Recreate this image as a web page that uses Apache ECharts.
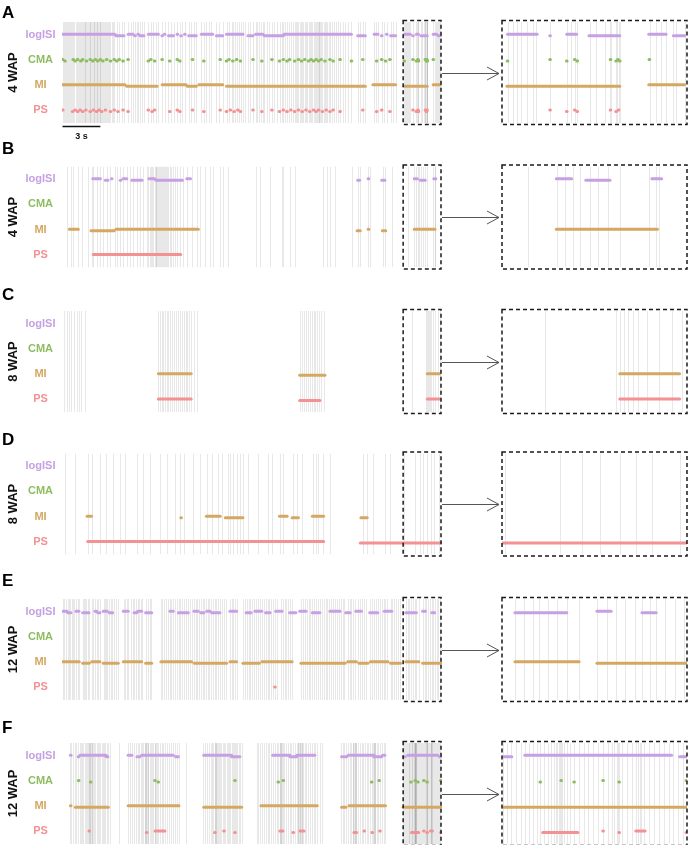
<!DOCTYPE html>
<html>
<head>
<meta charset="utf-8">
<script src="https://cdn.jsdelivr.net/npm/echarts@6/dist/echarts.min.js"></script>
<style>
html,body{margin:0;padding:0;background:#fff;}
#chart{width:688px;height:845px;}
</style>
</head>
<body>
<div id="chart"></div>
<script>
// ---------- categories / labels ----------
const methods = ['logISI', 'CMA', 'MI', 'PS'];
const methodColors = ['#c6a0e2', '#8ebd61', '#d4a862', '#f29292'];
const panelLetters = ['A', 'B', 'C', 'D', 'E', 'F'];
const panelAges = ['4 WAP', '4 WAP', '8 WAP', '8 WAP', '12 WAP', '12 WAP'];
const windowRange = [0, 30];      // seconds shown in each raster
const zoomRange = [27, 30];       // seconds shown in each enlarged box
const scaleBar = [0, 3];          // 3 s scale bar
const scaleLabel = '3 s';

// ---------- panel A (4 WAP) ----------
const spikesA = [0.02,0.1,0.2,0.28,0.35,0.45,0.52,0.6,0.7,0.78,0.85,0.95,1.05,1.12,1.2,1.3,1.38,1.45,1.55,1.6,1.68,1.75,1.82,1.88,1.95,2.02,2.08,2.15,2.2,2.27,2.33,2.4,2.46,2.52,2.58,2.63,2.7,2.76,2.82,2.88,2.95,3.0,3.06,3.12,3.2,3.27,3.35,3.42,3.5,3.6,3.7,3.8,3.9,4.0,4.1,
 4.3,4.5,4.7,4.85,5.2,5.4,5.55,5.75,5.9,6.0,6.15,6.3,6.45,6.8,7.0,7.2,7.4,7.6,7.9,8.1,8.4,8.6,8.8,9.1,9.3,9.5,9.7,10.0,10.2,10.4,10.6,11.0,11.2,11.4,11.6,11.8,12.2,12.4,12.7,13.0,13.2,13.4,13.55,13.7,13.85,14.0,
 14.15,14.3,14.5,14.7,14.9,15.1,15.3,15.45,15.6,15.75,15.9,16.0,16.2,16.4,16.6,16.8,17.0,17.2,17.4,17.5,17.65,17.8,17.95,18.1,18.25,18.4,18.5,18.6,18.7,18.8,18.9,19.0,19.1,19.2,19.3,19.4,19.5,19.6,19.7,19.8,19.9,20.0,20.1,20.2,20.25,20.3,20.35,20.4,20.5,20.6,20.7,20.8,20.9,21.0,21.1,21.2,21.35,21.5,21.65,21.8,22.0,22.2,22.4,22.6,22.9,
 23.4,23.6,23.8,24.0,24.7,24.85,25.0,25.3,25.5,25.7,26.0,26.2,26.4,
 27.09,27.18,27.25,27.31,27.40,27.50,27.55,27.78,28.05,28.12,28.18,28.21,28.43,28.53,28.67,28.75,28.77,28.85,28.87,28.89,28.91,29.40,29.50,29.58,29.66,29.77,29.82,29.96];
const logisiA = [[0.0,4.16],[4.24,4.87],[5.2,5.6],5.75,6.0,[6.14,6.46],[6.8,7.6],7.9,8.1,[8.4,8.8],9.1,9.4,9.7,[10.0,10.6],[11.0,11.9],[12.2,12.7],[13.0,14.3],[14.7,15.1],[15.3,15.9],[16.0,17.5],[17.55,22.9],[23.4,24.0],[24.7,25.0],25.3,25.7,[26.0,26.4],[27.09,27.57],27.78,[28.05,28.21],[28.41,28.91],[29.38,29.66],[29.78,29.96]];
const cmaA = [0.02,0.2,0.85,1.0,1.2,1.45,1.6,1.9,2.2,2.4,2.6,2.8,3.0,3.2,3.5,3.8,4.1,4.3,4.5,4.8,5.2,6.8,7.0,7.3,7.9,8.5,9.1,9.3,10.3,11.2,12.5,13.0,13.2,13.5,13.8,14.1,15.1,15.8,16.6,17.2,17.5,17.8,18.0,18.4,18.7,18.95,19.2,19.5,19.7,19.9,20.1,20.3,20.5,20.8,21.2,21.45,22.0,22.9,23.8,24.9,25.3,25.6,25.95,27.09,27.78,28.05,28.18,28.22,28.76,28.85,28.88,28.91,29.39];
const miA = [[0,4.95],[5.1,7.5],[7.9,9.8],[9.9,10.6],[10.8,12.7],[13.0,24.0],[24.6,26.4],[27.08,28.91],[29.38,29.96]];
const psA = [0.02,0.8,1.0,1.2,1.4,1.6,1.85,2.2,2.45,2.7,2.9,3.1,3.4,3.8,4.1,4.4,4.8,5.2,6.8,7.1,7.3,8.5,9.1,9.3,10.3,11.2,12.5,13.0,13.3,13.6,13.9,14.1,15.1,15.8,16.6,17.2,17.5,17.8,18.1,18.4,18.7,19.0,19.3,19.6,19.9,20.1,20.3,20.6,20.9,21.2,21.45,22.0,23.8,24.9,25.3,25.95,27.78,28.05,28.18,28.22,28.76,28.85,28.89];

// ---------- panel B (4 WAP) ----------
const spikesB = [0.33,0.65,0.86,1.25,1.52,2.05,2.31,2.44,2.71,2.97,3.23,3.5,3.76,4.16,4.34,4.56,4.82,5.09,5.35,5.61,5.88,6.14,6.4,6.67,
 6.8,6.9,7.0,7.1,7.2,7.3,7.38,7.45,7.52,7.6,7.68,7.75,7.82,7.9,7.98,8.05,8.12,8.2,8.3,8.4,8.5,8.6,8.75,8.9,9.05,
 9.31,9.57,9.84,10.24,10.63,10.9,11.29,11.69,11.95,12.48,12.74,13.14,
 15.36,15.65,16.44,17.37,17.5,18.03,18.42,20.64,20.93,21.2,21.59,22.92,23.42,23.58,24.2,24.37,25.4,25.56,26.08,
 27.42,27.89,28.02,28.15,28.26,28.43,28.56,28.72,28.91,29.38,29.5,29.55];
const logisiB = [[2.4,3.0],[3.4,3.6],3.9,4.6,[4.8,5.1],[5.5,6.3],[6.85,7.3],[7.4,9.5],[9.85,10.15],[23.4,23.55],24.25,[25.3,25.55],[27.88,28.13],[28.36,28.75],[29.43,29.59]];
const cmaB = [];
const miB = [[0.54,1.25],[2.26,4.1],[4.24,10.76],[23.35,23.6],24.25,[25.35,25.62],[27.88,29.52]];
const psB = [[2.44,9.37]];

// ---------- panel C (8 WAP) ----------
const spikesC = [0.14,0.33,0.51,0.71,0.9,1.11,1.32,1.5,1.82,
 7.57,7.7,7.85,8.0,8.12,8.25,8.4,8.55,8.7,8.85,9.0,9.15,9.3,9.45,9.6,9.75,9.9,10.05,10.2,10.4,10.64,
 18.85,19.0,19.15,19.3,19.45,19.6,19.75,19.9,20.05,20.2,20.35,20.5,20.7,
 27.7,28.85,28.92,28.98,29.05,29.12,29.2,29.35,29.55,29.75,29.92];
const logisiC = [];
const cmaC = [];
const miC = [[7.6,10.2],[18.8,20.8],[28.91,29.88]];
const psC = [[7.6,10.2],[18.8,20.4],[28.91,29.88]];

// ---------- panel D (8 WAP) ----------
const spikesD = [0.2,1.0,2.0,2.34,2.97,3.45,4.0,4.56,4.95,5.9,6.38,6.93,7.73,8.29,8.92,9.31,9.63,10.34,10.9,11.45,11.85,12.32,12.64,13.12,13.29,13.5,13.83,14.06,14.3,14.72,15.5,16.3,16.57,17.23,17.5,18.29,18.55,18.95,19.87,20.09,20.27,20.67,21.2,23.84,24.1,24.63,25.55,25.95,27.05,27.94,28.3,28.59,28.91,29.17,29.43,29.88];
const logisiD = [];
const cmaD = [];
const miD = [[1.95,2.3],9.4,[11.4,12.5],[12.9,14.3],[17.2,17.8],[18.2,18.7],[19.8,20.7],[23.65,24.15]];
const psD = [[2.0,20.7],[23.6,30]];

// ---------- panel E (12 WAP) ----------
const spikesE = [0.05,0.15,0.3,0.4,0.5,0.62,0.75,0.85,0.95,1.1,1.2,1.3,1.6,1.7,1.8,1.9,2.0,2.1,2.3,2.45,2.6,2.7,2.8,2.95,3.25,3.35,3.45,3.55,3.7,3.85,3.95,4.1,4.25,4.4,
 4.85,4.95,5.1,5.2,5.4,5.55,5.7,5.8,5.95,6.05,6.2,6.3,6.6,6.75,6.9,7.05,7.8,7.9,8.05,8.2,8.35,8.5,8.6,8.75,8.9,9.05,9.2,9.35,9.5,9.65,9.8,9.95,10.1,10.25,
 10.45,10.55,10.7,10.85,10.95,11.1,11.25,11.4,11.5,11.65,11.8,11.9,12.05,12.2,12.35,12.5,12.65,12.8,12.95,13.3,13.4,13.55,13.7,13.8,
 14.3,14.45,14.6,14.75,14.9,15.05,15.2,15.35,15.5,15.65,15.8,15.95,16.1,16.25,16.4,16.55,16.7,16.85,17.0,17.3,17.45,17.6,17.75,17.9,18.05,18.2,
 18.9,19.05,19.2,19.35,19.5,19.65,19.8,19.95,20.1,20.25,20.4,20.55,20.7,20.85,21.0,21.15,21.3,21.45,21.6,21.75,21.9,22.05,22.2,22.35,
 22.6,22.75,22.9,23.05,23.2,23.45,23.6,23.75,23.9,24.05,24.4,24.55,24.7,24.85,25.0,25.15,25.3,25.45,25.6,25.75,26.0,26.15,26.3,26.45,26.6,26.75,
 27.21,27.35,27.5,27.6,27.75,27.9,28.05,28.25,28.54,28.7,28.85,29.0,29.15,29.27,29.4,29.5,29.65,29.8,29.95];
const logisiE = [[0.04,0.36],[0.41,0.67],[1.07,1.3],[1.6,2.1],[2.57,2.71],[2.79,2.97],[3.23,3.55],[3.71,3.98],[4.82,5.21],[5.67,5.88],[5.96,6.28],[6.59,7.07],[8.52,8.78],[9.18,9.97],[10.42,10.76],[10.95,11.21],[11.43,11.69],[11.82,12.48],[13.27,13.8],
 [14.55,14.95],[15.25,15.8],[16.1,16.45],[16.9,17.4],[18.0,18.5],[18.8,19.3],[19.8,20.4],[21.2,22.0],[22.45,22.8],[23.25,23.7],[24.35,25.0],[25.5,26.1],[27.21,28.05],[28.54,28.77],[29.27,29.5]];
const cmaE = [];
const miE = [[0,1.33],[1.6,2.12],[2.31,2.97],[3.23,4.42],[4.82,6.28],[6.59,7.07],[7.8,10.24],[10.45,13.0],[13.27,13.8],[14.3,15.6],[15.8,18.2],[18.9,22.4],[22.6,23.3],[23.5,24.2],[24.4,25.8],[26.0,26.8],[27.21,28.25],[28.54,30]];
const psE = [16.84];

// ---------- panel F (12 WAP) ----------
const spikesF = [0.62,0.7,0.85,1.0,1.1,1.25,1.35,1.45,1.55,1.65,1.75,1.85,1.95,2.02,2.08,2.12,2.16,2.2,2.25,2.3,2.35,2.42,2.5,2.6,2.7,2.8,2.9,3.0,3.1,3.2,3.3,3.4,3.5,3.6,3.75,
 4.5,5.2,5.35,5.5,5.65,5.8,5.95,6.1,6.2,6.3,6.4,6.5,6.55,6.6,6.65,6.7,6.75,6.8,6.9,7.0,7.1,7.2,7.3,7.35,7.4,7.5,7.6,7.7,7.85,8.0,8.15,8.3,8.45,8.6,8.75,8.9,9.05,9.2,9.8,
 11.15,11.3,11.45,11.6,11.75,11.85,11.95,12.05,12.1,12.15,12.2,12.25,12.3,12.4,12.5,12.6,12.7,12.8,12.9,13.0,13.1,13.2,13.3,13.4,13.5,13.6,13.67,13.75,13.85,13.95,14.05,14.2,
 15.4,15.5,15.65,15.8,15.95,16.1,16.25,16.4,16.55,16.7,16.85,17.0,17.1,17.2,17.25,17.3,17.35,17.4,17.45,17.55,17.7,17.85,18.0,18.15,18.3,18.45,18.6,18.65,18.7,18.75,18.8,18.85,18.9,18.95,19.0,19.1,19.2,19.3,19.45,19.6,19.75,19.9,20.05,20.2,20.4,20.6,
 22.1,22.2,22.35,22.5,22.65,22.8,22.9,23.0,23.05,23.1,23.15,23.2,23.25,23.3,23.4,23.55,23.7,23.85,23.95,24.1,24.25,24.4,24.55,24.6,24.65,24.7,24.75,24.8,24.9,25.0,25.15,25.3,25.45,25.6,
 27.02,27.08,27.15,27.22,27.3,27.37,27.44,27.5,27.56,27.62,27.68,27.74,27.8,27.85,27.88,27.9,27.92,27.94,27.96,27.98,28.0,28.05,28.1,28.17,28.25,28.33,28.4,28.48,28.56,28.64,28.72,28.78,28.82,28.86,28.88,28.9,28.95,29.02,29.1,29.17,29.2,29.23,29.26,29.3,29.38,29.46,29.55,29.63,29.7,29.78,29.86,29.94];
const logisiF = [0.65,1.27,[1.39,3.45],[3.45,3.6],[5.2,5.5],[5.9,6.14],[6.27,8.78],[8.97,9.18],[11.2,13.4],[13.4,14.06],[16.66,18.03],[18.03,18.56],[18.56,20.0],[22.12,22.52],[22.65,24.68],[24.68,25.3],[25.37,25.55],[27.02,27.16],[27.37,29.75],[29.88,30]];
const cmaF = [1.28,2.23,7.33,7.59,13.67,17.1,17.5,24.5,25.1,27.62,27.96,28.17,28.64,28.9,29.99];
const miF = [0.65,[1.02,3.63],[5.2,9.23],[11.2,14.2],[15.73,20.19],[22.12,22.46],[22.7,25.6],[27.0,30]];
const psF = [2.12,6.67,[7.33,8.12],12.08,12.8,13.67,[17.23,17.47],18.29,[18.82,19.14],[23.1,23.31],23.92,24.55,25.16,[27.66,28.23],28.64,28.9,[29.17,29.32],29.99];

const panelSpikes = [spikesA, spikesB, spikesC, spikesD, spikesE, spikesF];
const panelBursts = [
  [logisiA, cmaA, miA, psA],
  [logisiB, cmaB, miB, psB],
  [logisiC, cmaC, miC, psC],
  [logisiD, cmaD, miD, psD],
  [logisiE, cmaE, miE, psE],
  [logisiF, cmaF, miF, psF]
];

// ---------- layout (pixels) ----------
const panelTops = [22, 166.5, 311, 453.5, 599, 743];
const panelLetterTops = [5, 141, 287, 432, 573, 720];
const gridH = 101;
const mainLeft = 62.5, mainWidth = 378.5;
const zoomLeft = 502, zoomWidth = 185;
const FONT = "'Liberation Sans', Arial, sans-serif";

const grids = [], xAxes = [], yAxes = [], series = [], titles = [], graphics = [];

function spikeSeries(gi, spikes, range) {
  return {
    type: 'custom', xAxisIndex: gi, yAxisIndex: gi, clip: true, silent: true, z: 1,
    data: spikes.filter(t => t >= range[0] && t <= range[1]).map(t => [t]),
    encode: { x: 0 },
    renderItem: function (params, api) {
      const cs = params.coordSys;
      const x = Math.round(api.coord([api.value(0), 0])[0]) + 0.5;
      return { type: 'line', shape: { x1: x, y1: cs.y, x2: x, y2: cs.y + cs.height },
        style: { stroke: 'rgba(0,0,0,0.09)', lineWidth: 1 } };
    }
  };
}

function burstSeries(gi, bursts, range) {
  const data = [];
  bursts.forEach((list, m) => list.forEach((b, i) => {
    const s = typeof b === 'number' ? b : b[0];
    const e = typeof b === 'number' ? b : b[1];
    if (e >= range[0] && s <= range[1]) data.push([s, e, m, i % 2]);
  }));
  return {
    type: 'custom', xAxisIndex: gi, yAxisIndex: gi, clip: true, silent: true, z: 3,
    data: data, encode: { x: [0, 1], y: 2 },
    renderItem: function (params, api) {
      const m = api.value(2);
      const off = api.value(3) ? 1.0 : -0.4;
      const p1 = api.coord([api.value(0), m]);
      const p2 = api.coord([api.value(1), m]);
      let x1 = p1[0], x2 = p2[0];
      if (x2 - x1 < 0.6) { const c = (x1 + x2) / 2; x1 = c - 0.3; x2 = c + 0.3; }
      return { type: 'line', shape: { x1: x1, y1: p1[1] + off, x2: x2, y2: p2[1] + off },
        style: { stroke: methodColors[m], lineWidth: 3, lineCap: 'round' } };
    }
  };
}

function boxSeries(gi, range) {
  return {
    type: 'custom', xAxisIndex: gi, yAxisIndex: gi, clip: false, silent: true, z: 5,
    data: [[range[0], range[1]]], encode: { x: [0, 1] },
    renderItem: function (params, api) {
      const cs = params.coordSys;
      const a = api.coord([api.value(0), 0])[0];
      const b = api.coord([api.value(1), 0])[0];
      return { type: 'rect', shape: { x: a, y: cs.y - 1.5, width: b - a, height: cs.height + 3 },
        style: { fill: 'none', stroke: '#1a1a1a', lineWidth: 1.5, lineDash: [4, 3] } };
    }
  };
}

panelLetters.forEach((letter, p) => {
  const top = panelTops[p];
  const gMain = 2 * p, gZoom = 2 * p + 1;
  grids.push({ left: mainLeft, top: top, width: mainWidth, height: gridH, containLabel: false, outerBoundsMode: 'none' });
  grids.push({ left: zoomLeft, top: top, width: zoomWidth, height: gridH, containLabel: false, outerBoundsMode: 'none' });
  xAxes.push({ gridIndex: gMain, type: 'value', min: windowRange[0], max: windowRange[1], show: false });
  xAxes.push({ gridIndex: gZoom, type: 'value', min: zoomRange[0], max: zoomRange[1], show: false });
  yAxes.push({
    gridIndex: gMain, type: 'category', data: methods, inverse: true,
    axisLine: { show: false }, axisTick: { show: false }, splitLine: { show: false },
    axisLabel: { margin: 22, align: 'center', fontSize: 11, fontWeight: 'bold', fontFamily: FONT,
      color: function (v) { return methodColors[methods.indexOf(v)]; } },
    name: panelAges[p], nameLocation: 'middle', nameRotate: 90, nameGap: 43, nameMoveOverlap: false,
    nameTextStyle: { fontSize: 13, fontWeight: 'bold', color: '#111', fontFamily: FONT }
  });
  yAxes.push({ gridIndex: gZoom, type: 'category', data: methods, inverse: true, show: false });

  series.push(spikeSeries(gMain, panelSpikes[p], windowRange));
  series.push(burstSeries(gMain, panelBursts[p], windowRange));
  series.push(boxSeries(gMain, zoomRange));
  series.push(spikeSeries(gZoom, panelSpikes[p], zoomRange));
  series.push(burstSeries(gZoom, panelBursts[p], zoomRange));
  series.push(boxSeries(gZoom, zoomRange));

  titles.push({ text: letter, left: 2, top: panelLetterTops[p], padding: 0,
    textStyle: { fontSize: 17, fontWeight: 'bold', color: '#000', fontFamily: FONT } });

  // arrow from the boxed region to its enlargement
  const cy = Math.round(top + gridH / 2) + 0.5;
  graphics.push({ type: 'polyline', silent: true, shape: { points: [[mainLeft + mainWidth + 1, cy], [zoomLeft - 3, cy]] },
    style: { stroke: '#555', lineWidth: 1, fill: null } });
  graphics.push({ type: 'polyline', silent: true, shape: { points: [[zoomLeft - 15, cy - 6.5], [zoomLeft - 3, cy], [zoomLeft - 15, cy + 6.5]] },
    style: { stroke: '#555', lineWidth: 1, fill: null } });
});

// 3 s scale bar under panel A
series.push({
  type: 'custom', xAxisIndex: 0, yAxisIndex: 0, clip: false, silent: true, z: 6,
  data: [[scaleBar[0], scaleBar[1]]], encode: { x: [0, 1] },
  renderItem: function (params, api) {
    const cs = params.coordSys;
    const a = api.coord([api.value(0), 0])[0];
    const b = api.coord([api.value(1), 0])[0];
    const y = cs.y + cs.height + 3.5;
    return { type: 'group', children: [
      { type: 'line', shape: { x1: a, y1: y, x2: b, y2: y }, style: { stroke: '#111', lineWidth: 1.3 } },
      { type: 'text', style: { text: scaleLabel, x: (a + b) / 2, y: y + 10, align: 'center', textAlign: 'center',
        verticalAlign: 'middle', textVerticalAlign: 'middle', font: 'bold 9px ' + FONT, fill: '#111' } }
    ] };
  }
});

const chart = echarts.init(document.getElementById('chart'), null, { renderer: 'canvas' });
chart.setOption({
  animation: false,
  backgroundColor: '#fff',
  title: titles,
  grid: grids,
  xAxis: xAxes,
  yAxis: yAxes,
  series: series,
  graphic: graphics
});
</script>
</body>
</html>
